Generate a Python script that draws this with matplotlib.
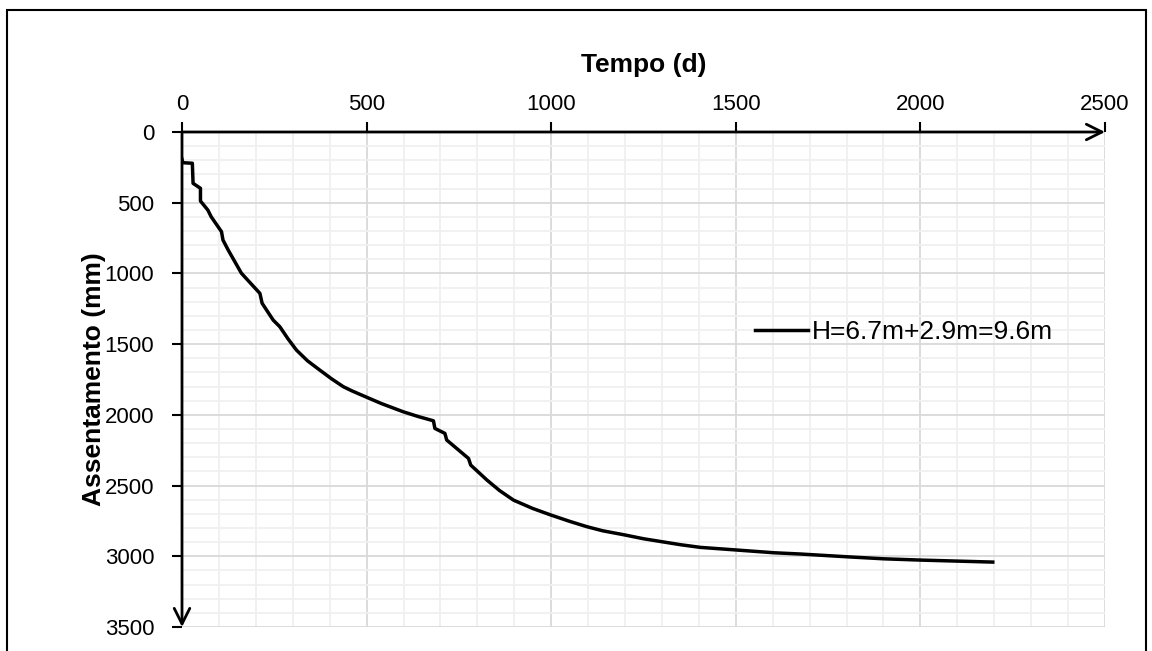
import matplotlib
matplotlib.use("Agg")
import matplotlib.pyplot as plt
from matplotlib.patches import Rectangle
from matplotlib.ticker import MultipleLocator

# Dados
tempo = [0, 2, 28, 30, 50, 50, 70, 79, 107, 111, 125, 161, 211, 217, 247,
         265, 287, 310, 340, 373, 405, 437, 460, 482, 540, 599, 640, 681,
         685, 712, 717, 776, 782, 826, 860, 898, 950, 1000, 1050, 1097,
         1140, 1187, 1201, 1250, 1300, 1350, 1404, 1504, 1603, 1675, 1811,
         1902, 2002, 2196]
assentamento = [193, 217, 221, 363, 398, 488, 552, 599, 705, 764, 834, 999,
                1141, 1211, 1330, 1377, 1462, 1542, 1618, 1683, 1745, 1801,
                1830, 1855, 1920, 1978, 2012, 2042, 2096, 2131, 2178, 2308,
                2355, 2461, 2535, 2603, 2662, 2709, 2753, 2791, 2820, 2843,
                2850, 2876, 2897, 2918, 2937, 2956, 2975, 2984, 3005, 3018,
                3027, 3041]
serie_label = "H=6.7m+2.9m=9.6m"
x_ticks = [0, 500, 1000, 1500, 2000, 2500]
y_ticks = [0, 500, 1000, 1500, 2000, 2500, 3000, 3500]

plt.rcParams['font.family'] = ['Liberation Sans', 'DejaVu Sans']

fig = plt.figure(figsize=(11.52, 6.51), dpi=100)
ax = fig.add_axes([182 / 1152, 1 - 627 / 651, (1105 - 182) / 1152, (627 - 132) / 651])

ax.plot(tempo, assentamento, color='black', lw=2.5, label=serie_label,
        solid_joinstyle='round', zorder=3)

ax.set_xlim(0, 2500)
ax.set_ylim(3500, 0)
ax.set_xticks(x_ticks)
ax.set_yticks(y_ticks)
ax.xaxis.set_minor_locator(MultipleLocator(100))
ax.yaxis.set_minor_locator(MultipleLocator(100))
ax.xaxis.tick_top()
ax.xaxis.set_label_position('top')
ax.tick_params(axis='both', which='major', direction='out', length=7, width=1.5,
               labelsize=16, color='black')
ax.tick_params(axis='x', which='major', pad=5)
ax.tick_params(axis='y', which='major', pad=13)
ax.tick_params(axis='both', which='minor', length=0)

ax.grid(which='major', color='#d9d9d9', lw=1.3, zorder=0)
ax.grid(which='minor', color='#f0f0f0', lw=1.3, zorder=0)
ax.set_axisbelow(True)

for s in ['top', 'bottom', 'left', 'right']:
    ax.spines[s].set_visible(False)

# eixos com seta
ax.annotate('', xy=(1, 1), xytext=(0, 1), xycoords='axes fraction',
            arrowprops=dict(arrowstyle='->', lw=2, color='black', shrinkA=0,
                            shrinkB=0, mutation_scale=28), annotation_clip=False)
ax.annotate('', xy=(0, 0), xytext=(0, 1), xycoords='axes fraction',
            arrowprops=dict(arrowstyle='->', lw=2, color='black', shrinkA=0,
                            shrinkB=0, mutation_scale=28), annotation_clip=False)

ax.set_xlabel('Tempo (d)', fontsize=19, fontweight='bold', labelpad=16)
ax.set_ylabel('Assentamento (mm)', fontsize=19, fontweight='bold', labelpad=-1)

ax.legend(loc='center left', bbox_to_anchor=(0.621, 0.596), frameon=False,
          fontsize=19, handlelength=2.0, handletextpad=0.15,
          borderpad=0, borderaxespad=0)

fig.patches.append(Rectangle((7 / 1152, -0.01), (1146 - 7) / 1152, 1.0023 - 5 / 651,
                             transform=fig.transFigure, fill=False,
                             edgecolor='black', lw=1.5))

fig.savefig('out.png', dpi=100)
